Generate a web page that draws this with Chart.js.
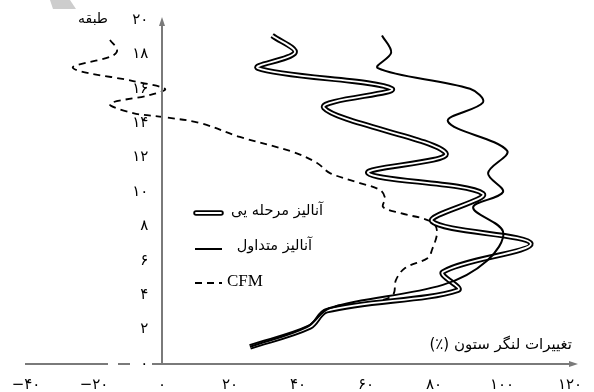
<!DOCTYPE html>
<html lang="fa">
<head>
<meta charset="utf-8">
<title>تغییرات لنگر ستون</title>
<script src="https://cdn.jsdelivr.net/npm/chart.js@4.4.1/dist/chart.umd.min.js"></script>
<style>
  html, body { margin: 0; padding: 0; background: #fff; }
  #wrap { width: 594px; height: 392px; }
</style>
</head>
<body>
<div id="wrap"><canvas id="chart" width="594" height="392"></canvas></div>
<script>
// ==================== data ====================
const xTicks = [-40, -20, 0, 20, 40, 60, 80, 100, 120];
const yTicks = [0, 2, 4, 6, 8, 10, 12, 14, 16, 18, 20];

// آنالیز مرحله یی (double line)
const stepValue = [32.4, 39.1, 28.2, 67.6, 47.6, 83.5, 60.6, 94.4, 79.4, 108.5, 82.6, 87.1, 48.5, 43.5, 25.9];
const stepFloor = [19.1, 18.1, 17.2, 16.0, 14.9, 12.25, 11.1, 9.9, 8.3, 7.0, 5.35, 4.3, 3.1, 2.15, 1.0];

// آنالیز متداول (solid line)
const convValue = [64.7, 67.4, 63.5, 90.6, 94.4, 84.1, 101.5, 95.9, 100.3, 91.5, 100.3, 95.6, 82.6, 49.4, 42.6, 25.9];
const convFloor = [19.1, 18.1, 17.2, 16.0, 15.2, 14.1, 12.4, 11.1, 10.0, 9.1, 7.7, 6.0, 4.6, 3.26, 2.15, 1.0];

// CFM (dashed line)
const cfmValue = [-15.3, -13.2, -14.7, -26.2, -8.5, 0.9, -3.5, -15.3, -8.5, 0.3, 11.2, 22.9, 38.5, 45.6, 49.4, 58.2, 64.1, 65.6, 65.0, 70.0, 79.4, 80.9, 79.4, 78.2, 71.5, 68.8, 67.9, 62.1, 49.4, 42.6, 25.9];
const cfmFloor = [18.84, 18.26, 17.9, 17.21, 16.45, 15.99, 15.64, 15.12, 14.59, 14.36, 14.01, 13.2, 12.33, 11.69, 11.1, 10.52, 10.12, 9.65, 9.13, 8.78, 8.26, 7.67, 6.63, 6.16, 5.58, 4.88, 4.01, 3.6, 3.26, 2.15, 1.0];

const seriesNames = ["آنالیز مرحله یی", "آنالیز متداول", "CFM"];
const xTitle = "تغییرات لنگر ستون (٪)";
const yTitle = "طبقه";

// ==================== helpers ====================
const AXIS = "#7a7a7a";
const FA_FONT = '"DejaVu Sans", sans-serif';

function toFa(n) {
  const s = String(Math.abs(n)).replace(/\d/g, (d) => "۰۱۲۳۴۵۶۷۸۹"[d]);
  return n < 0 ? "−" + s : s;
}

function points(xs, ys) {
  return xs.map((x, i) => ({ x: x, y: ys[i] }));
}

// ==================== decorations ====================
const decor = {
  id: "decor",
  beforeDatasetsDraw(chart) {
    // small breaks in the horizontal axis next to the zero label
    const ctx = chart.ctx;
    ctx.save();
    ctx.fillStyle = "#fff";
    ctx.fillRect(108, 361, 10, 6);
    ctx.fillRect(130, 361, 22, 6);
    ctx.restore();
  },
  afterDraw(chart) {
    const { ctx, chartArea, scales } = chart;
    const x0 = scales.x.getPixelForValue(0);
    const yb = scales.y.getPixelForValue(0);
    const yt = scales.y.getPixelForValue(20);
    ctx.save();

    // grey watermark corner
    ctx.fillStyle = "#cdcdcd";
    ctx.beginPath();
    ctx.moveTo(50, 0); ctx.lineTo(70, 0); ctx.lineTo(76, 9); ctx.lineTo(53, 9);
    ctx.closePath(); ctx.fill();

    // vertical axis + arrows
    ctx.strokeStyle = AXIS;
    ctx.fillStyle = AXIS;
    ctx.lineWidth = 2;
    ctx.beginPath();
    ctx.moveTo(x0, yb); ctx.lineTo(x0, yt + 4);
    ctx.moveTo(chartArea.right, yb); ctx.lineTo(chartArea.right + 3, yb);
    ctx.stroke();
    ctx.beginPath();
    ctx.moveTo(x0, yt - 3); ctx.lineTo(x0 - 3, yt + 6); ctx.lineTo(x0 + 3, yt + 6);
    ctx.closePath(); ctx.fill();
    ctx.beginPath();
    ctx.moveTo(chartArea.right + 8, yb); ctx.lineTo(chartArea.right - 1, yb - 3); ctx.lineTo(chartArea.right - 1, yb + 3);
    ctx.closePath(); ctx.fill();

    // axis titles
    ctx.fillStyle = "#000";
    ctx.direction = "rtl";
    ctx.textAlign = "right";
    ctx.textBaseline = "middle";
    ctx.font = "14px " + FA_FONT;
    ctx.fillText(yTitle, 108, 19);
    ctx.font = "15px " + FA_FONT;
    ctx.fillText(xTitle, 572, 345);

    // legend
    const lx1 = 196, lx2 = 221;
    ctx.lineCap = "round";
    ctx.strokeStyle = "#000";
    ctx.lineWidth = 5.5;
    ctx.beginPath(); ctx.moveTo(lx1, 213); ctx.lineTo(lx2, 213); ctx.stroke();
    ctx.strokeStyle = "#fff";
    ctx.lineWidth = 1.8;
    ctx.beginPath(); ctx.moveTo(lx1, 213); ctx.lineTo(lx2, 213); ctx.stroke();
    ctx.lineCap = "butt";
    ctx.strokeStyle = "#000";
    ctx.lineWidth = 2;
    ctx.beginPath(); ctx.moveTo(lx1 - 1, 249); ctx.lineTo(lx2 + 1, 249); ctx.stroke();
    ctx.setLineDash([7, 5]);
    ctx.beginPath(); ctx.moveTo(lx1 - 1, 283); ctx.lineTo(lx2 + 1, 283); ctx.stroke();
    ctx.setLineDash([]);

    ctx.font = "14.5px " + FA_FONT;
    ctx.fillText(seriesNames[0], 323, 211);
    ctx.fillText(seriesNames[1], 312, 246);
    ctx.direction = "ltr";
    ctx.textAlign = "left";
    ctx.font = '17px "Liberation Serif", serif';
    ctx.fillText(seriesNames[2], 227, 282);
    ctx.restore();
  }
};

// ==================== chart ====================
const lineBase = {
  showLine: true,
  pointRadius: 0,
  pointHoverRadius: 0,
  tension: 0.35,
  fill: false
};

new Chart(document.getElementById("chart"), {
  type: "scatter",
  data: {
    datasets: [
      { ...lineBase, label: seriesNames[1], data: points(convValue, convFloor), borderColor: "#000", borderWidth: 2, order: 0 },
      { ...lineBase, label: seriesNames[0] + " inner", data: points(stepValue, stepFloor), borderColor: "#fff", borderWidth: 1.8, order: 1 },
      { ...lineBase, label: seriesNames[0], data: points(stepValue, stepFloor), borderColor: "#000", borderWidth: 5.5, order: 2 },
      { ...lineBase, label: seriesNames[2], data: points(cfmValue, cfmFloor), borderColor: "#000", borderWidth: 1.8, borderDash: [7, 5], order: 3 }
    ]
  },
  options: {
    responsive: false,
    animation: false,
    events: [],
    layout: { padding: { left: 26, right: 24, top: 20, bottom: 0 } },
    plugins: { legend: { display: false }, tooltip: { enabled: false } },
    scales: {
      x: {
        type: "linear",
        position: "bottom",
        min: -40,
        max: 120,
        afterBuildTicks: (s) => { s.ticks = xTicks.map((v) => ({ value: v })); },
        afterFit: (s) => { s.height = 28; },
        grid: { display: false },
        border: { display: true, color: AXIS, width: 2 },
        ticks: {
          padding: 4,
          color: "#000",
          font: { family: FA_FONT, size: 15 },
          maxRotation: 0,
          callback: (v) => toFa(v)
        }
      },
      y: {
        type: "linear",
        position: { x: -4 },
        min: 0,
        max: 20,
        afterBuildTicks: (s) => { s.ticks = yTicks.map((v) => ({ value: v })); },
        afterFit: (s) => { s.width = 0; },
        grid: { display: false, drawTicks: false },
        border: { display: false },
        ticks: {
          z: 1,
          padding: 0,
          color: "#000",
          font: { family: FA_FONT, size: 15 },
          callback: (v) => toFa(v)
        }
      }
    }
  },
  plugins: [decor]
});
</script>
</body>
</html>
